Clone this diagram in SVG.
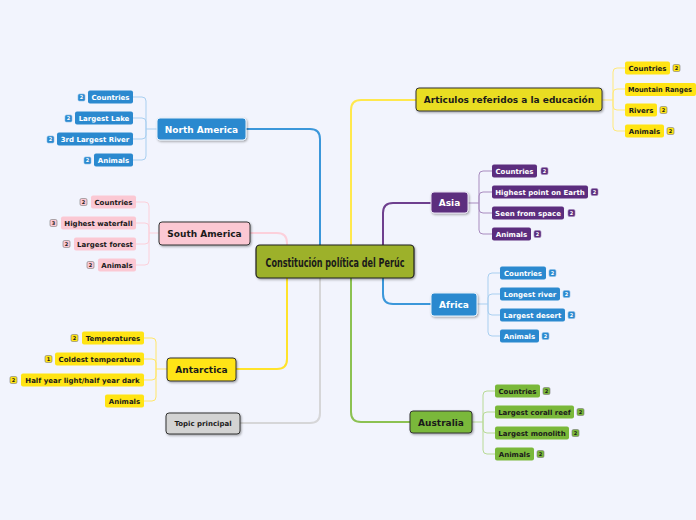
<svg xmlns="http://www.w3.org/2000/svg" width="696" height="520" viewBox="0 0 696 520">
<defs>
<filter id="sh" x="-10%" y="-20%" width="130%" height="150%"><feDropShadow dx="1" dy="1.2" stdDeviation="0.8" flood-color="#000" flood-opacity="0.35"/></filter>
<style>
.t{font-family:"DejaVu Sans",Verdana,sans-serif;font-weight:bold;font-size:7px;text-anchor:middle}
.m{font-family:"DejaVu Sans",Verdana,sans-serif;font-weight:bold;font-size:9px;text-anchor:middle}
.b{font-family:"DejaVu Sans",Verdana,sans-serif;font-weight:bold;font-size:5px;text-anchor:middle}
.w{fill:#fff}.k{fill:#1a1a1a}
.main{fill:none;stroke-width:2}
.sub{fill:none;stroke-width:1}
.blue{fill:#2b89cf}.purple{fill:#5c2d7e}.pink{fill:#fbc8d3}.yel{fill:#ffe414}.grn{fill:#7ab83a}
.bb{fill:#2b89cf;stroke:#86bde9;stroke-width:0.6}
.bp{fill:#5c2d7e;stroke:#9d7fb7;stroke-width:0.6}
.bk{stroke:#777;stroke-width:0.6}
</style>
</defs>
<rect width="696" height="520" fill="#f2f4fd"/>
<g id="connectors">
<path class="main" stroke="#3b97da" d="M320 245 V139 Q320 129 310 129 H246"/>
<path class="main" stroke="#d6d6d8" d="M320 278 V413 Q320 423 310 423 H240"/>
<path class="main" stroke="#fcd0db" d="M287 245 V243 Q287 233 277 233 H250"/>
<path class="main" stroke="#ffe32b" d="M287 278 V359 Q287 369 277 369 H236"/>
<path class="main" stroke="#ffe84d" d="M351 245 V110 Q351 100 361 100 H416"/>
<path class="main" stroke="#6e3f8e" d="M383 245 V213 Q383 203 393 203 H431"/>
<path class="main" stroke="#3b97da" d="M383 278 V294 Q383 304 393 304 H431"/>
<path class="main" stroke="#8cc152" d="M351 278 V412 Q351 422 361 422 H410"/>
<g class="sub" stroke="#a9cff0">
<path d="M157 129 H146 M146 129 V101 Q146 97 142 97 H133 M146 129 V122 Q146 118 142 118 H133 M146 129 V135 Q146 139 142 139 H133 M146 129 V156 Q146 160 142 160 H133"/>
</g>
<g class="sub" stroke="#fcd0da">
<path d="M159 233 H149 M149 233 V206 Q149 202 145 202 H136 M149 233 V227 Q149 223 145 223 H136 M149 233 V240 Q149 244 145 244 H136 M149 233 V261 Q149 265 145 265 H136"/>
</g>
<g class="sub" stroke="#ffe66a">
<path d="M167 369 H156 M156 369 V342 Q156 338 152 338 H144 M156 369 V363 Q156 359 152 359 H144 M156 369 V376 Q156 380 152 380 H144 M156 369 V397 Q156 401 152 401 H144"/>
</g>
<g class="sub" stroke="#ffe97a">
<path d="M602 100 H613 M613 100 V72 Q613 68 617 68 H625 M613 100 V93 Q613 89 617 89 H625 M613 100 V106 Q613 110 617 110 H625 M613 100 V127 Q613 131 617 131 H625"/>
</g>
<g class="sub" stroke="#a88bbf">
<path d="M468 203 H479 M479 203 V175 Q479 171 483 171 H492 M479 203 V196 Q479 192 483 192 H492 M479 203 V209 Q479 213 483 213 H492 M479 203 V230 Q479 234 483 234 H492"/>
</g>
<g class="sub" stroke="#a9cff0">
<path d="M477 304 H488 M488 304 V277 Q488 273 492 273 H500 M488 304 V298 Q488 294 492 294 H500 M488 304 V311 Q488 315 492 315 H500 M488 304 V332 Q488 336 492 336 H500"/>
</g>
<g class="sub" stroke="#b8da96">
<path d="M472 422 H483 M483 422 V395 Q483 391 487 391 H495 M483 422 V416 Q483 412 487 412 H495 M483 422 V429 Q483 433 487 433 H495 M483 422 V450 Q483 454 487 454 H495"/>
</g>
</g>

<g id="central">
<rect x="256" y="245" width="158" height="33" rx="4" fill="#9db12c" stroke="#1e1e1e" stroke-width="1.2" filter="url(#sh)"/>
<text x="335" y="266.5" font-family="'Liberation Sans Narrow','DejaVu Sans Condensed','Liberation Sans',sans-serif" font-weight="bold" font-size="13" text-anchor="middle" fill="#1a1a1a" textLength="139" lengthAdjust="spacingAndGlyphs">Constitución política del Perúc</text>
</g>

<g id="north-america">
<rect x="157" y="118" width="89" height="22" rx="3" fill="#2b89cf" stroke="#e6f1fb" stroke-width="1" filter="url(#sh)"/>
<text class="m w" x="201.5" y="132.5">North America</text>
</g>
<g id="na-countries"><rect class="blue" x="88" y="90.5" width="45" height="13" rx="2"/><text class="t w" x="110.5" y="99.5">Countries</text><rect class="bb" x="78" y="94" width="7" height="7" rx="1.5"/><text class="b w" x="81.5" y="99.3">2</text></g>
<g id="na-lake"><rect class="blue" x="75" y="111.5" width="58" height="13" rx="2"/><text class="t w" x="104" y="120.5">Largest Lake</text><rect class="bb" x="65" y="115" width="7" height="7" rx="1.5"/><text class="b w" x="68.5" y="120.3">2</text></g>
<g id="na-river"><rect class="blue" x="57" y="132.5" width="76" height="13" rx="2"/><text class="t w" x="95" y="141.5">3rd Largest River</text><rect class="bb" x="47" y="136" width="7" height="7" rx="1.5"/><text class="b w" x="50.5" y="141.3">2</text></g>
<g id="na-animals"><rect class="blue" x="94" y="153.5" width="39" height="13" rx="2"/><text class="t w" x="113.5" y="162.5">Animals</text><rect class="bb" x="84" y="157" width="7" height="7" rx="1.5"/><text class="b w" x="87.5" y="162.3">2</text></g>

<g id="south-america">
<rect x="159" y="222" width="91" height="23" rx="3" fill="#fbc8d3" stroke="#333" stroke-width="1" filter="url(#sh)"/>
<text class="m k" x="204.5" y="236.8">South America</text>
</g>
<g id="sa-countries"><rect class="pink" x="91" y="195.5" width="45" height="13" rx="2"/><text class="t k" x="113.5" y="204.5">Countries</text><rect class="pink bk" x="80" y="198.5" width="7" height="7" rx="1.5"/><text class="b k" x="83.5" y="203.8">2</text></g>
<g id="sa-waterfall"><rect class="pink" x="61" y="216.5" width="75" height="13" rx="2"/><text class="t k" x="98.5" y="225.5">Highest waterfall</text><rect class="pink bk" x="50" y="219.5" width="7" height="7" rx="1.5"/><text class="b k" x="53.5" y="224.8">3</text></g>
<g id="sa-forest"><rect class="pink" x="74" y="237.5" width="62" height="13" rx="2"/><text class="t k" x="105" y="246.5">Largest forest</text><rect class="pink bk" x="63" y="240.5" width="7" height="7" rx="1.5"/><text class="b k" x="66.5" y="245.8">2</text></g>
<g id="sa-animals"><rect class="pink" x="98" y="258.5" width="38" height="13" rx="2"/><text class="t k" x="117" y="267.5">Animals</text><rect class="pink bk" x="87" y="261.5" width="7" height="7" rx="1.5"/><text class="b k" x="90.5" y="266.8">2</text></g>

<g id="antarctica">
<rect x="167" y="358" width="69" height="23" rx="3" fill="#ffe414" stroke="#333" stroke-width="1" filter="url(#sh)"/>
<text class="m k" x="201.5" y="372.8">Antarctica</text>
</g>
<g id="an-temp"><rect class="yel" x="82" y="331.5" width="62" height="13" rx="2"/><text class="t k" x="113" y="340.5">Temperatures</text><rect class="yel bk" x="71" y="334.5" width="7" height="7" rx="1.5"/><text class="b k" x="74.5" y="339.8">2</text></g>
<g id="an-cold"><rect class="yel" x="55" y="352.5" width="89" height="13" rx="2"/><text class="t k" x="99.5" y="361.5">Coldest temperature</text><rect class="yel bk" x="45" y="355.5" width="7" height="7" rx="1.5"/><text class="b k" x="48.5" y="360.8">1</text></g>
<g id="an-half"><rect class="yel" x="21" y="373.5" width="123" height="13" rx="2"/><text class="t k" x="82.5" y="382.5">Half year light/half year dark</text><rect class="yel bk" x="10" y="376.5" width="7" height="7" rx="1.5"/><text class="b k" x="13.5" y="381.8">2</text></g>
<g id="an-animals"><rect class="yel" x="105" y="394.5" width="39" height="13" rx="2"/><text class="t k" x="124.5" y="403.5">Animals</text></g>

<g id="topic-principal">
<rect x="166" y="413" width="74" height="21" rx="3" fill="#d3d3d3" stroke="#333" stroke-width="1" filter="url(#sh)"/>
<text class="t k" x="203" y="426">Topic principal</text>
</g>

<g id="articulos">
<rect x="416" y="88" width="186" height="23" rx="3" fill="#e9dd24" stroke="#333" stroke-width="1" filter="url(#sh)"/>
<text class="m k" x="509" y="103">Articulos referidos a la educación</text>
</g>
<g id="ar-countries"><rect class="yel" x="625" y="61.5" width="45" height="13" rx="2"/><text class="t k" x="647.5" y="70.5">Countries</text><rect class="yel bk" x="673" y="64.5" width="7" height="7" rx="1.5"/><text class="b k" x="676.5" y="69.8">2</text></g>
<g id="ar-mountain"><rect class="yel" x="625" y="83" width="71" height="13" rx="2"/><text class="t k" x="628" y="92" style="text-anchor:start" textLength="64" lengthAdjust="spacingAndGlyphs">Mountain Ranges</text></g>
<g id="ar-rivers"><rect class="yel" x="625" y="103.5" width="32" height="13" rx="2"/><text class="t k" x="641" y="112.5">Rivers</text><rect class="yel bk" x="660" y="106.5" width="7" height="7" rx="1.5"/><text class="b k" x="663.5" y="111.8">2</text></g>
<g id="ar-animals"><rect class="yel" x="625" y="124.5" width="39" height="13" rx="2"/><text class="t k" x="644.5" y="133.5">Animals</text><rect class="yel bk" x="667" y="127.5" width="7" height="7" rx="1.5"/><text class="b k" x="670.5" y="132.8">2</text></g>

<g id="asia">
<rect x="431" y="192" width="37" height="21" rx="3" fill="#5c2d7e" stroke="#e6dff0" stroke-width="1" filter="url(#sh)"/>
<text class="m w" x="449.5" y="205.8">Asia</text>
</g>
<g id="as-countries"><rect class="purple" x="492" y="164.5" width="45" height="13" rx="2"/><text class="t w" x="514.5" y="173.5">Countries</text><rect class="bp" x="541" y="167.5" width="7" height="7" rx="1.5"/><text class="b w" x="544.5" y="172.8">2</text></g>
<g id="as-highest"><rect class="purple" x="492" y="185.5" width="96" height="13" rx="2"/><text class="t w" x="540" y="194.5">Highest point on Earth</text><rect class="bp" x="591" y="188.5" width="7" height="7" rx="1.5"/><text class="b w" x="594.5" y="193.8">2</text></g>
<g id="as-space"><rect class="purple" x="492" y="206.5" width="72" height="13" rx="2"/><text class="t w" x="528" y="215.5">Seen from space</text><rect class="bp" x="568" y="209.5" width="7" height="7" rx="1.5"/><text class="b w" x="571.5" y="214.8">2</text></g>
<g id="as-animals"><rect class="purple" x="492" y="227.5" width="39" height="13" rx="2"/><text class="t w" x="511.5" y="236.5">Animals</text><rect class="bp" x="534" y="230.5" width="7" height="7" rx="1.5"/><text class="b w" x="537.5" y="235.8">2</text></g>

<g id="africa">
<rect x="431" y="293" width="46" height="23" rx="3" fill="#2b89cf" stroke="#e6f1fb" stroke-width="1" filter="url(#sh)"/>
<text class="m w" x="454" y="307.8">Africa</text>
</g>
<g id="af-countries"><rect class="blue" x="500" y="266.5" width="46" height="13" rx="2"/><text class="t w" x="523" y="275.5">Countries</text><rect class="bb" x="549" y="269.5" width="7" height="7" rx="1.5"/><text class="b w" x="552.5" y="274.8">2</text></g>
<g id="af-river"><rect class="blue" x="500" y="287.5" width="60" height="13" rx="2"/><text class="t w" x="530" y="296.5">Longest river</text><rect class="bb" x="563" y="290.5" width="7" height="7" rx="1.5"/><text class="b w" x="566.5" y="295.8">2</text></g>
<g id="af-desert"><rect class="blue" x="500" y="308.5" width="65" height="13" rx="2"/><text class="t w" x="532.5" y="317.5">Largest desert</text><rect class="bb" x="568" y="311.5" width="7" height="7" rx="1.5"/><text class="b w" x="571.5" y="316.8">2</text></g>
<g id="af-animals"><rect class="blue" x="500" y="329.5" width="39" height="13" rx="2"/><text class="t w" x="519.5" y="338.5">Animals</text><rect class="bb" x="542" y="332.5" width="7" height="7" rx="1.5"/><text class="b w" x="545.5" y="337.8">2</text></g>

<g id="australia">
<rect x="410" y="411" width="62" height="22" rx="3" fill="#7ab83a" stroke="#333" stroke-width="1" filter="url(#sh)"/>
<text class="m k" x="441" y="425.5">Australia</text>
</g>
<g id="au-countries"><rect class="grn" x="495" y="384.5" width="45" height="13" rx="2"/><text class="t k" x="517.5" y="393.5">Countries</text><rect class="grn bk" x="543" y="387.5" width="7" height="7" rx="1.5"/><text class="b k" x="546.5" y="392.8">2</text></g>
<g id="au-reef"><rect class="grn" x="495" y="405.5" width="79" height="13" rx="2"/><text class="t k" x="534.5" y="414.5">Largest corall reef</text><rect class="grn bk" x="577" y="408.5" width="7" height="7" rx="1.5"/><text class="b k" x="580.5" y="413.8">2</text></g>
<g id="au-monolith"><rect class="grn" x="495" y="426.5" width="74" height="13" rx="2"/><text class="t k" x="532" y="435.5">Largest monolith</text><rect class="grn bk" x="572" y="429.5" width="7" height="7" rx="1.5"/><text class="b k" x="575.5" y="434.8">2</text></g>
<g id="au-animals"><rect class="grn" x="495" y="447.5" width="39" height="13" rx="2"/><text class="t k" x="514.5" y="456.5">Animals</text><rect class="grn bk" x="537" y="450.5" width="7" height="7" rx="1.5"/><text class="b k" x="540.5" y="455.8">2</text></g>
</svg>
